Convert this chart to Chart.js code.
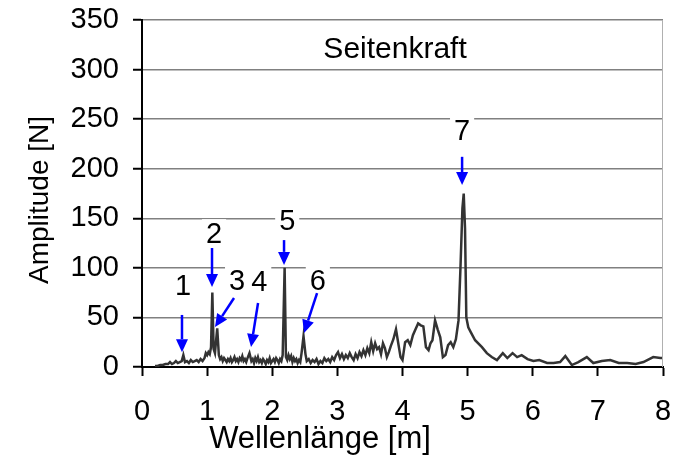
<!DOCTYPE html>
<html>
<head>
<meta charset="utf-8">
<script src="https://cdn.jsdelivr.net/npm/chart.js@4"></script>
<style>
  html, body { margin: 0; padding: 0; background: #fff; }
  #wrap { width: 685px; height: 460px; }
</style>
</head>
<body>
<div id="wrap"><canvas id="spectrumChart" width="685" height="460"></canvas></div>
<script>
// Wavelength [m] and amplitude [N]
const wavelength = [
  0.20, 0.24, 0.28, 0.32, 0.36, 0.40, 0.43, 0.46, 0.49, 0.52, 0.55, 0.58, 0.61, 0.635, 0.66, 0.69,
  0.72, 0.75, 0.78, 0.81, 0.84, 0.87, 0.90, 0.93, 0.96, 0.98, 1.00, 1.02, 1.04, 1.06, 1.08, 1.10,
  1.12, 1.155, 1.18, 1.20, 1.22, 1.24, 1.26, 1.28, 1.30, 1.32, 1.34, 1.36, 1.38, 1.40, 1.42, 1.44,
  1.46, 1.48, 1.50, 1.52, 1.54, 1.56, 1.58, 1.60, 1.62, 1.65, 1.68, 1.70, 1.72, 1.74, 1.76, 1.78,
  1.80, 1.82, 1.84, 1.86, 1.88, 1.90, 1.92, 1.94, 1.96, 1.98, 2.00, 2.02, 2.04, 2.06, 2.08, 2.10,
  2.12, 2.14, 2.16, 2.19, 2.21, 2.23, 2.25, 2.27, 2.29, 2.31, 2.33, 2.35, 2.37, 2.39, 2.41, 2.43,
  2.45, 2.48, 2.51, 2.53, 2.56, 2.59, 2.62, 2.65, 2.68, 2.71, 2.74, 2.77, 2.80, 2.83, 2.86, 2.89,
  2.92, 2.95, 2.98, 3.01, 3.04, 3.07, 3.10, 3.13, 3.16, 3.19, 3.22, 3.25, 3.28, 3.31, 3.34, 3.37,
  3.40, 3.43, 3.46, 3.49, 3.52, 3.55, 3.58, 3.61, 3.64, 3.67, 3.70, 3.73, 3.76, 3.79, 3.82, 3.86,
  3.90, 3.94, 3.97, 4.00, 4.04, 4.08, 4.12, 4.16, 4.20, 4.24, 4.28, 4.32, 4.36, 4.40, 4.43, 4.46,
  4.50, 4.54, 4.58, 4.62, 4.66, 4.70, 4.74, 4.78, 4.82, 4.86, 4.89, 4.92, 4.94, 4.96, 4.98, 5.01,
  5.05, 5.115, 5.22, 5.295, 5.37, 5.45, 5.54, 5.61, 5.69, 5.76, 5.83, 5.92, 6.01, 6.10, 6.22, 6.32,
  6.42, 6.50, 6.60, 6.70, 6.83, 6.93, 7.06, 7.19, 7.32, 7.45, 7.58, 7.70, 7.85, 7.96, 8.00
];
const amplitude = [
  1, 1, 2, 2, 3, 3, 5, 3, 4, 6, 4, 5, 6, 12, 5, 6,
  4, 7, 5, 6, 7, 5, 8, 6, 9, 14, 12, 15, 13, 20, 75, 18,
  14, 39, 12, 8, 10, 6, 9, 7, 5, 8, 6, 9, 5, 7, 10, 6,
  8, 5, 9, 7, 11, 6, 8, 5, 9, 14, 6, 8, 4, 9, 6, 10,
  5, 7, 4, 8, 6, 3, 7, 5, 9, 4, 6, 8, 5, 9, 7, 4,
  8, 6, 12, 100, 10, 7, 12, 8, 11, 5, 9, 6, 8, 4, 7, 5,
  14, 31, 13, 6, 8, 4, 7, 5, 8, 3, 6, 4, 9, 6, 8, 5,
  10, 7, 12, 15, 9, 13, 8, 12, 9, 14, 10, 7, 13, 9, 15, 11,
  17, 12, 19, 14, 25, 16, 24, 18, 20, 13, 24, 19, 10, 15, 21, 28,
  38, 22, 10, 7, 25, 27, 22, 32, 38, 44, 42, 41, 20, 17, 24, 27,
  47, 38, 30, 10, 12, 22, 25, 20, 28, 47, 100, 160, 175, 140, 50, 40,
  35, 27, 20, 14, 10, 7, 14, 9, 14, 10, 12, 8, 6, 7, 4, 4,
  5, 11, 2, 5, 10, 4, 6, 7, 4, 4, 3, 5, 10, 9, 9
];

const xTicks = [0, 1, 2, 3, 4, 5, 6, 7, 8];
const yTicks = [0, 50, 100, 150, 200, 250, 300, 350];

// Numbered arrows: label centre, arrow tail and arrow tip (data units)
const arrowLabels = ['1', '2', '3', '4', '5', '6', '7'];
const labelX = [0.63, 1.106, 1.46, 1.80, 2.23, 2.70, 4.915];
const labelY = [81, 133, 86, 85, 146, 86, 237];
const tailX = [0.614, 1.075, 1.413, 1.782, 2.181, 2.688, 4.915];
const tailY = [52.5, 120, 69.6, 64.6, 128, 74.6, 212];
const tipX = [0.614, 1.075, 1.121, 1.674, 2.181, 2.488, 4.915];
const tipY = [15, 80.7, 40.3, 20.2, 103, 34.3, 183.6];

const chartTitle = 'Seitenkraft';
const titleX = 3.886;
const titleY = 320;
const xTitle = 'Wellenlänge [m]';
const yTitle = 'Amplitude [N]';

const FONT = '"Liberation Sans", Arial, sans-serif';

const annotations = {
  id: 'annotations',
  afterDatasetsDraw(chart) {
    const { ctx, chartArea, scales: { x, y } } = chart;
    ctx.save();

    // thin grey border on the right of the plot area
    ctx.strokeStyle = '#b0b0b0';
    ctx.lineWidth = 1;
    ctx.beginPath();
    ctx.moveTo(chartArea.right - 0.5, chartArea.top);
    ctx.lineTo(chartArea.right - 0.5, chartArea.bottom);
    ctx.stroke();

    ctx.textAlign = 'center';
    ctx.textBaseline = 'middle';

    // chart title inside the plot
    ctx.font = '30px ' + FONT;
    const tx = x.getPixelForValue(titleX), ty = y.getPixelForValue(titleY);
    const tw = ctx.measureText(chartTitle).width;
    ctx.fillStyle = '#fff';
    ctx.fillRect(tx - tw / 2 - 4, ty - 17, tw + 8, 34);
    ctx.fillStyle = '#000';
    ctx.fillText(chartTitle, tx, ty);

    // axis titles (placed like the original, x title left of centre)
    ctx.font = '31px ' + FONT;
    ctx.fillText(xTitle, 320, 439);
    ctx.save();
    ctx.translate(40, 200);
    ctx.rotate(-Math.PI / 2);
    ctx.font = '28px ' + FONT;
    ctx.fillText(yTitle, 0, 0);
    ctx.restore();

    ctx.font = '29px ' + FONT;
    arrowLabels.forEach((lab, i) => {
      const lx = x.getPixelForValue(labelX[i]), ly = y.getPixelForValue(labelY[i]);
      const w = ctx.measureText(lab).width;
      ctx.fillStyle = '#fff';
      ctx.fillRect(lx - w / 2 - 4, ly - 16, w + 8, 32);
      ctx.fillStyle = '#000';
      ctx.fillText(lab, lx, ly);

      // arrow shaft + head
      const x0 = x.getPixelForValue(tailX[i]), y0 = y.getPixelForValue(tailY[i]);
      const x1 = x.getPixelForValue(tipX[i]), y1 = y.getPixelForValue(tipY[i]);
      const ang = Math.atan2(y1 - y0, x1 - x0);
      const headLen = 13, headW = 6;
      const bx = x1 - headLen * Math.cos(ang), by = y1 - headLen * Math.sin(ang);
      ctx.strokeStyle = '#0000ff';
      ctx.lineWidth = 2.5;
      ctx.beginPath();
      ctx.moveTo(x0, y0);
      ctx.lineTo(bx, by);
      ctx.stroke();
      ctx.fillStyle = '#0000ff';
      ctx.beginPath();
      ctx.moveTo(x1, y1);
      ctx.lineTo(bx + headW * Math.sin(ang), by - headW * Math.cos(ang));
      ctx.lineTo(bx - headW * Math.sin(ang), by + headW * Math.cos(ang));
      ctx.closePath();
      ctx.fill();
    });
    ctx.restore();
  }
};

const ctx = document.getElementById('spectrumChart').getContext('2d');
new Chart(ctx, {
  type: 'line',
  data: {
    datasets: [{
      data: wavelength.map((w, i) => ({ x: w, y: amplitude[i] })),
      borderColor: '#333333',
      borderWidth: 2.5,
      pointRadius: 0,
      tension: 0,
      fill: false
    }]
  },
  options: {
    responsive: false,
    animation: false,
    layout: { padding: { top: 20, right: 22, left: 0, bottom: 0 } },
    plugins: {
      legend: { display: false },
      tooltip: { enabled: false }
    },
    scales: {
      x: {
        type: 'linear',
        min: 0,
        max: 8,
        afterBuildTicks: scale => { scale.ticks = xTicks.map(v => ({ value: v })); },
        afterFit: scale => {
          scale.height = 93;
          scale.paddingLeft = 0;
          scale.paddingRight = 0;
        },
        ticks: { color: '#000', font: { family: FONT, size: 29 }, padding: 19, maxRotation: 0 },
        grid: { drawOnChartArea: false, drawTicks: true, tickLength: 9, tickColor: '#000', tickWidth: 2 },
        border: { display: true, color: '#000', width: 2 }
      },
      y: {
        min: 0,
        max: 350,
        afterBuildTicks: scale => { scale.ticks = yTicks.map(v => ({ value: v })); },
        afterFit: scale => {
          scale.width = 142;
          scale.paddingTop = 0;
          scale.paddingBottom = 0;
        },
        ticks: { color: '#000', font: { family: FONT, size: 29 }, padding: 14 },
        grid: { color: '#808080', lineWidth: 1.5, drawTicks: true, tickLength: 9, tickColor: '#000', tickWidth: 2 },
        border: { display: true, color: '#000', width: 2 }
      }
    }
  },
  plugins: [annotations]
});
</script>
</body>
</html>
